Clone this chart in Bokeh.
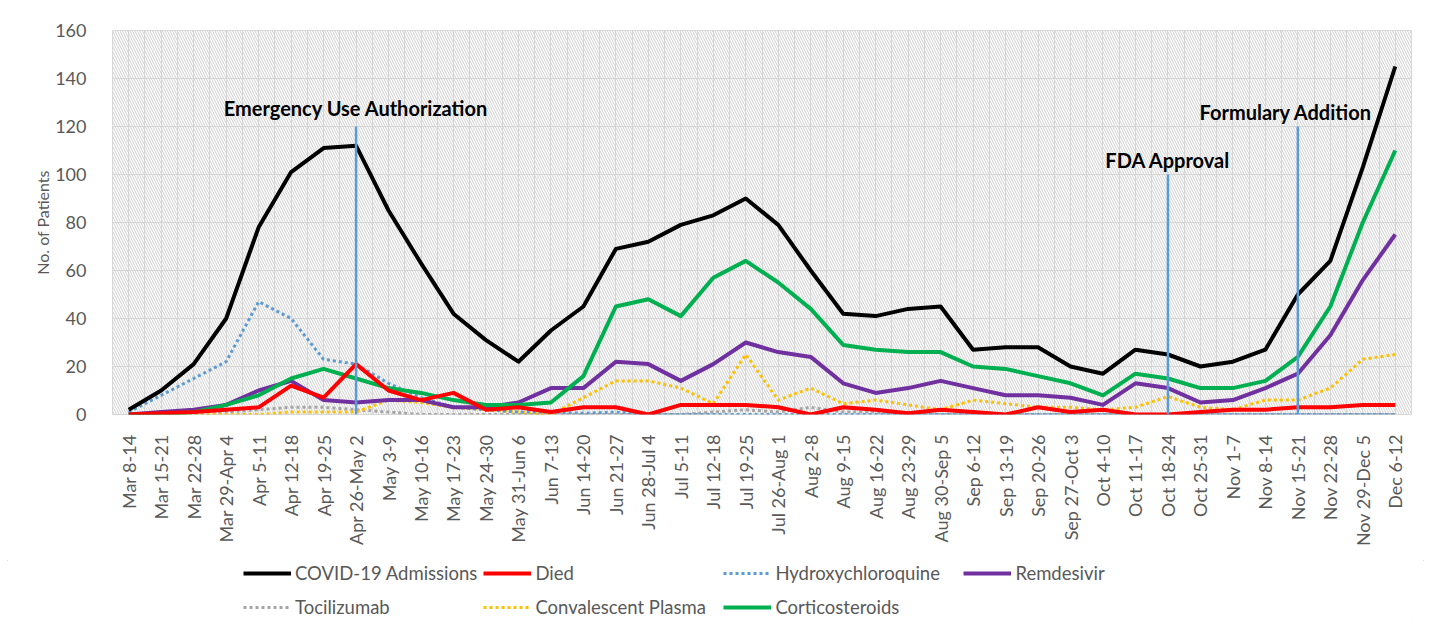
import numpy as np
from bokeh.plotting import figure
from bokeh.layouts import column
from bokeh.models import (FixedTicker, BoxAnnotation, Legend, LegendItem,
                          ColumnDataSource, Range1d)
from bokeh.core.properties import value
from bokeh.embed import file_html
from bokeh.resources import INLINE

weeks = ["Mar 8-14", "Mar 15-21", "Mar 22-28", "Mar 29-Apr 4", "Apr 5-11",
         "Apr 12-18", "Apr 19-25", "Apr 26-May 2", "May 3-9", "May 10-16",
         "May 17-23", "May 24-30", "May 31-Jun 6", "Jun 7-13", "Jun 14-20",
         "Jun 21-27", "Jun 28-Jul 4", "Jul 5-11", "Jul 12-18", "Jul 19-25",
         "Jul 26-Aug 1", "Aug 2-8", "Aug 9-15", "Aug 16-22", "Aug 23-29",
         "Aug 30-Sep 5", "Sep 6-12", "Sep 13-19", "Sep 20-26", "Sep 27-Oct 3",
         "Oct 4-10", "Oct 11-17", "Oct 18-24", "Oct 25-31", "Nov 1-7",
         "Nov 8-14", "Nov 15-21", "Nov 22-28", "Nov 29-Dec 5", "Dec 6-12"]

admissions = [2, 10, 21, 40, 78, 101, 111, 112, 85, 63, 42, 31, 22, 35, 45,
              69, 72, 79, 83, 90, 79, 60, 42, 41, 44, 45, 27, 28, 28, 20,
              17, 27, 25, 20, 22, 27, 50, 64, 103, 145]
died = [0, 0.5, 1, 2, 3, 12, 7, 21, 10, 6, 9, 2, 3, 1, 3, 3, 0, 4, 4, 4,
        3, 0, 3, 2, 0.5, 2, 1, 0, 3, 1, 2, 0, 0, 1, 2, 2, 3, 3, 4, 4]
hydroxychloroquine = [1, 8, 15, 22, 47, 40, 23, 21, 13, 7, 3, 2, 1, 1, 0.5,
                      1, 0, 0, 0, 0, 0, 0, 0, 0, 0, 0, 0, 0, 0, 0,
                      0, 0, 0, 0, 0, 0, 0, 0, 0, 0]
remdesivir = [0, 1, 2, 4, 10, 14, 6, 5, 6, 6, 3, 3, 5, 11, 11, 22, 21, 14,
              21, 30, 26, 24, 13, 9, 11, 14, 11, 8, 8, 7, 4, 13, 11, 5, 6,
              11, 17, 33, 56, 75]
tocilizumab = [0, 0, 0, 1, 2, 3, 3, 2, 1, 0, 0, 0, 0, 0, 0, 0, 0, 0, 1, 2,
               1, 3, 1, 1, 0, 0, 0, 0, 0, 0, 0, 0, 0, 0, 0, 0, 0, 0, 0, 0]
convalescent_plasma = [0, 0, 0, 0, 0, 1, 1, 1, 6, 5, 3, 2, 1, 0, 7, 14, 14,
                       11, 4.5, 25, 6, 11, 4.5, 6, 4, 2, 6, 4.5, 3, 3, 2, 3,
                       7.5, 3, 2, 6, 6, 11, 23, 25]
corticosteroids = [0, 0, 1, 4, 8, 15, 19, 15, 11, 9, 6, 4, 4, 5, 16, 45, 48,
                   41, 57, 64, 55, 44, 29, 27, 26, 26, 20, 19, 16, 13, 8, 17,
                   15, 11, 11, 14, 24, 45, 80, 110]

event_labels = ["Emergency Use Authorization", "FDA Approval", "Formulary Addition"]
event_weeks = ["Apr 26-May 2", "Oct 18-24", "Nov 15-21"]
event_tops = [120, 100, 120]
event_label_dx = [0, 0, -12]
event_label_dy = [-19, -15, -15]

y_ticks = [0, 20, 40, 60, 80, 100, 120, 140, 160]

FONT = "Lato"
GRAY = "#595959"
GRID = "#D9D9D9"

x = list(range(len(weeks)))

p = figure(width=1431, height=560, output_backend="svg", toolbar_location=None,
           x_range=Range1d(-0.5, len(weeks) - 0.5), y_range=Range1d(0, 160),
           min_border_left=112, min_border_right=20, min_border_top=30,
           min_border_bottom=146)

# hatched plot area
p.add_layout(BoxAnnotation(fill_color=None, line_color=None,
                           hatch_pattern="\\", hatch_color="#CFCFCF",
                           hatch_scale=5, hatch_weight=1, level="underlay"))

p.outline_line_color = GRID
p.xgrid.ticker = FixedTicker(ticks=list(np.arange(-0.5, len(weeks), 0.5)))
p.xgrid.grid_line_color = GRID
p.ygrid.ticker = FixedTicker(ticks=y_ticks)
p.ygrid.grid_line_color = GRID

p.xaxis.ticker = FixedTicker(ticks=x)
p.xaxis.major_label_overrides = {i: w for i, w in enumerate(weeks)}
p.xaxis.major_label_orientation = np.pi / 2
p.yaxis.ticker = FixedTicker(ticks=y_ticks)
for ax in (p.xaxis, p.yaxis):
    ax.axis_line_color = None
    ax.major_tick_line_color = None
    ax.minor_tick_line_color = None
    ax.major_label_text_font = FONT
    ax.major_label_text_font_size = "18px"
    ax.major_label_text_color = GRAY
p.xaxis.major_label_standoff = 14
p.yaxis.major_label_standoff = 20
p.yaxis.axis_label = "No. of Patients"
p.yaxis.axis_label_text_font = FONT
p.yaxis.axis_label_text_font_size = "16px"
p.yaxis.axis_label_text_font_style = "normal"
p.yaxis.axis_label_text_color = GRAY
p.yaxis.axis_label_standoff = 0

series = [
    ("COVID-19 Admissions", admissions, "#000000", 4, "solid"),
    ("Died", died, "#FF0000", 4, "solid"),
    ("Hydroxychloroquine", hydroxychloroquine, "#5B9BD5", 3, "3 3"),
    ("Remdesivir", remdesivir, "#7030A0", 4, "solid"),
    ("Tocilizumab", tocilizumab, "#A5A5A5", 3, "3 3"),
    ("Convalescent Plasma", convalescent_plasma, "#FFC000", 3, "3 3"),
    ("Corticosteroids", corticosteroids, "#00B050", 4, "solid"),
]
draw_order = [4, 5, 2, 3, 6, 1, 0]
for k in draw_order:
    name, vals, color, lw, dash = series[k]
    p.line(x, vals, line_color=color, line_width=lw,
           line_dash=dash, line_join="round")

# event markers
ev_src = ColumnDataSource(dict(
    x=[weeks.index(w) for w in event_weeks],
    y0=[0] * len(event_weeks),
    y1=event_tops,
    label=event_labels,
    dx=event_label_dx,
    dy=event_label_dy,
))
p.segment(x0="x", y0="y0", x1="x", y1="y1", source=ev_src,
          line_color="#5B9BD5", line_width=2.5)
p.text(x="x", y="y1", text="label", source=ev_src, x_offset="dx", y_offset="dy",
       text_align="center", text_baseline="alphabetic",
       text_font=value(FONT), text_font_size="20px", text_font_style="bold",
       text_color="#000000")

# legend strip below the chart (same series styles)
lg = figure(width=1431, height=68, output_backend="svg", toolbar_location=None,
            x_range=Range1d(1000, 1001), y_range=Range1d(1000, 1001),
            x_axis_location=None, y_axis_location=None,
            min_border_left=0, min_border_right=0, min_border_top=0,
            min_border_bottom=0)
lg.grid.visible = False
lg.outline_line_color = None
items = []
for name, vals, color, lw, dash in series:
    r = lg.line(x, vals, line_color=color, line_width=lw, line_dash=dash)
    items.append(LegendItem(label=name, renderers=[r]))

legend = Legend(items=items, ncols=4, orientation="horizontal",
                location=(131, 7),
                label_text_font=FONT, label_text_font_size="18.5px",
                label_text_color=GRAY, glyph_width=48, glyph_height=28,
                label_height=28, label_width=182, label_standoff=4, spacing=6,
                padding=0, margin=0, border_line_color=None,
                background_fill_alpha=0, inactive_fill_alpha=0)
lg.add_layout(legend, "center")

layout = column(p, lg, spacing=0)
layout.styles = {"outline": "1px solid #D9D9D9", "outline-offset": "-8px"}

open("out.html", "w").write(file_html(layout, INLINE))
